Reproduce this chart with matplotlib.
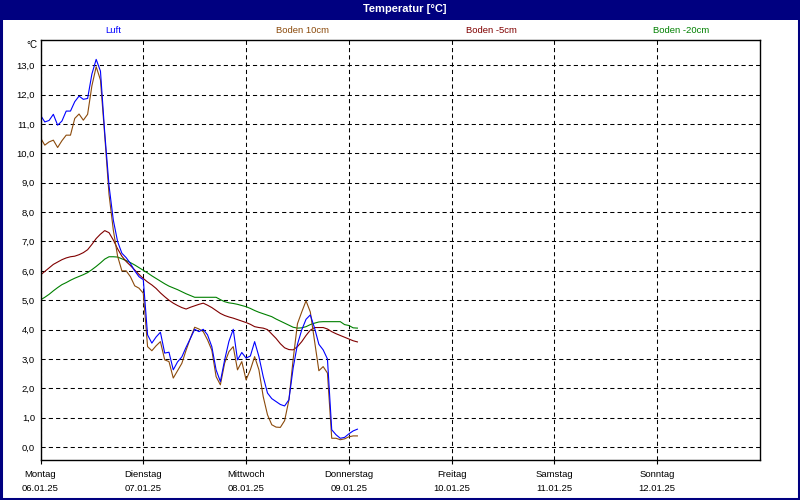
import numpy as np
import matplotlib
matplotlib.use("Agg")
import matplotlib.pyplot as plt
from matplotlib.patches import Rectangle

NAVY = "#000080"
FONT = ["Liberation Sans", "DejaVu Sans"]

# hourly readings, starting Monday 06.01.25 00:00
HOURS = list(range(75))
LUFT = [11.30, 11.07, 11.12, 11.33, 10.96, 11.10, 11.44, 11.44, 11.76, 11.95,
        11.84, 11.87, 12.70, 13.20, 12.80, 10.70, 8.90, 7.73, 7.00, 6.60,
        6.45, 6.25, 6.00, 5.80, 5.70, 3.82, 3.54, 3.75, 3.91, 3.20,
        3.23, 2.63, 2.90, 3.07, 3.40, 3.70, 4.01, 3.93, 4.01, 3.82,
        3.42, 2.63, 2.23, 2.97, 3.60, 4.01, 2.97, 3.22, 3.03, 3.10,
        3.59, 3.08, 2.40, 1.84, 1.65, 1.55, 1.45, 1.40, 1.61, 2.70,
        3.50, 3.99, 4.35, 4.50, 4.05, 3.50, 3.31, 3.00, 0.59, 0.42,
        0.30, 0.33, 0.45, 0.55, 0.61]
BODEN_10 = [10.53, 10.28, 10.39, 10.45, 10.20, 10.43, 10.62, 10.62, 11.19, 11.34,
            11.13, 11.33, 12.30, 12.95, 12.50, 10.60, 8.60, 7.39, 6.50, 6.00,
            6.00, 5.80, 5.49, 5.41, 5.24, 3.42, 3.28, 3.45, 3.59, 2.97,
            2.91, 2.35, 2.60, 2.85, 3.30, 3.71, 4.08, 4.02, 3.93, 3.65,
            3.30, 2.40, 2.12, 2.86, 3.25, 3.42, 2.63, 2.91, 2.29, 2.63,
            3.08, 2.63, 1.72, 1.10, 0.76, 0.68, 0.67, 0.90, 1.60, 3.00,
            4.20, 4.60, 4.98, 4.60, 3.60, 2.60, 2.74, 2.52, 0.30, 0.30,
            0.25, 0.28, 0.35, 0.38, 0.38]
BODEN_M5 = [5.86, 5.98, 6.10, 6.22, 6.30, 6.38, 6.44, 6.48, 6.50, 6.55,
            6.62, 6.72, 6.90, 7.10, 7.25, 7.37, 7.30, 7.05, 6.75, 6.50,
            6.32, 6.18, 6.03, 5.88, 5.74, 5.62, 5.52, 5.40, 5.25, 5.12,
            5.00, 4.90, 4.82, 4.75, 4.70, 4.76, 4.81, 4.86, 4.90, 4.83,
            4.75, 4.65, 4.55, 4.48, 4.43, 4.39, 4.34, 4.29, 4.24, 4.18,
            4.10, 4.07, 4.05, 4.00, 3.85, 3.70, 3.52, 3.38, 3.32, 3.31,
            3.42, 3.59, 3.80, 3.98, 4.07, 4.07, 4.07, 4.02, 3.93, 3.86,
            3.80, 3.74, 3.68, 3.62, 3.58]
BODEN_M20 = [5.01, 5.10, 5.20, 5.32, 5.43, 5.53, 5.60, 5.68, 5.75, 5.81,
             5.87, 5.94, 6.04, 6.15, 6.27, 6.40, 6.48, 6.48, 6.47, 6.41,
             6.35, 6.28, 6.20, 6.11, 6.02, 5.93, 5.83, 5.74, 5.65, 5.56,
             5.48, 5.42, 5.36, 5.29, 5.22, 5.16, 5.10, 5.10, 5.10, 5.10,
             5.10, 5.10, 5.02, 4.95, 4.91, 4.89, 4.86, 4.82, 4.78, 4.72,
             4.65, 4.59, 4.54, 4.49, 4.44, 4.36, 4.29, 4.22, 4.15, 4.08,
             4.05, 4.06, 4.10, 4.17, 4.22, 4.26, 4.27, 4.27, 4.27, 4.27,
             4.27, 4.17, 4.14, 4.06, 4.05]

SERIES_NAMES = ["Luft", "Boden 10cm", "Boden -5cm", "Boden -20cm"]
SERIES_COLORS = ["#0000ff", "#8b4a0b", "#800000", "#008000"]
DAY_NAMES = ["Montag", "Dienstag", "Mittwoch", "Donnerstag", "Freitag", "Samstag", "Sonntag"]
DAY_DATES = ["06.01.25", "07.01.25", "08.01.25", "09.01.25", "10.01.25", "11.01.25", "12.01.25"]
Y_TICKS = list(range(14))


def main():
    W, H = 800, 500
    fig = plt.figure(figsize=(8, 5), dpi=100)
    fig.patch.set_facecolor("white")

    # window frame and title bar
    fig.add_artist(Rectangle((0, 1 - 20 / H), 1, 20 / H, transform=fig.transFigure,
                             facecolor=NAVY, edgecolor="none"))
    fig.add_artist(Rectangle((1 / W, 1.5 / H), 1 - 2.5 / W, 1 - 3 / H, transform=fig.transFigure,
                             facecolor="none", edgecolor=NAVY, linewidth=2.2))
    fig.text(405 / W, 1 - 9.5 / H, "Temperatur [°C]", color="white", fontsize=8,
             fontweight="bold", ha="center", va="center", family=FONT)

    # series captions above the plot
    for i, (name, col) in enumerate(zip(SERIES_NAMES, SERIES_COLORS)):
        fig.text((113 + 189.3 * i) / W, 1 - 30.5 / H, name, color=col, fontsize=6.8,
                 ha="center", va="center", family=FONT)
    fig.text(37 / W, 1 - 44.5 / H, "°C", color="black", fontsize=7,
             ha="right", va="center", family=FONT)

    ax = fig.add_axes([40.5 / W, 40 / H, (760 - 40.5) / W, 420 / H])
    series = [LUFT, BODEN_10, BODEN_M5, BODEN_M20]
    # draw the soil series first so air sits on top
    for vals, col in reversed(list(zip(series, SERIES_COLORS))):
        ax.plot(HOURS, vals, color=col, linewidth=0.8)

    ax.set_xlim(0, 168)
    ax.set_ylim(-0.44, 13.86)
    ax.set_xticks(np.arange(0, 168, 24))
    ax.set_xticklabels([f"{d}\n{dt}" for d, dt in zip(DAY_NAMES, DAY_DATES)],
                       fontsize=6.8, family=FONT, linespacing=1.75)
    ax.set_yticks(Y_TICKS)
    ax.set_yticklabels([f"{v:.1f}".replace(".", ",") for v in Y_TICKS],
                       fontsize=6.8, family=FONT)
    ax.tick_params(axis="x", length=3, width=0.8, pad=4, color="black")
    ax.tick_params(axis="y", length=0, pad=4)

    ax.grid(True, color="black", linewidth=0.75, linestyle=(0, (4, 3)))
    ax.set_axisbelow(True)
    for sp in ax.spines.values():
        sp.set_linewidth(1.0)
        sp.set_color("black")

    fig.savefig("out.png", dpi=100, facecolor="white")
    plt.close(fig)


if __name__ == "__main__":
    main()
